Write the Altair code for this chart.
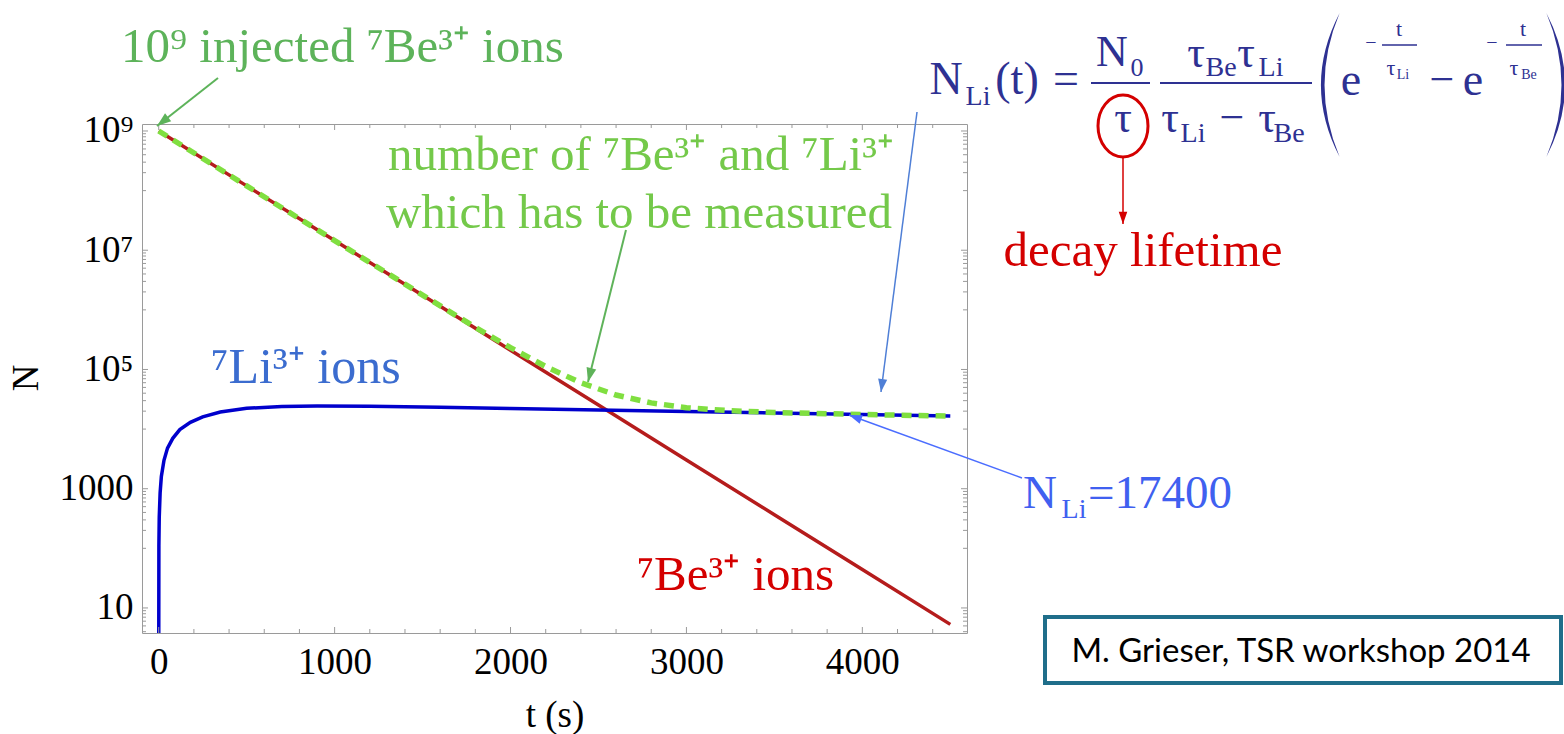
import math
import altair as alt
import pandas as pd

# ---------------- data ----------------
t_be = [0, 500, 1000, 1500, 2000, 2500, 3000, 3500, 4000, 4500]
n_be = [1.0e9, 1.2e8, 1.45e7, 1.75e6, 2.1e5, 2.53e4, 3040, 366, 44, 5.3]

t_li = [0, 1, 3, 8, 15, 30, 50, 80, 120, 180, 250, 350, 500, 700, 900,
        1200, 1600, 2000, 2500, 3000, 3500, 4000, 4500]
n_li = [0.5, 110, 330, 850, 1600, 3000, 4800, 7000, 9800, 13000, 16000, 19300,
        22300, 24000, 24500, 24200, 23200, 22200, 21000, 19800, 18600, 17500, 16500]

t_tot = [0, 500, 1000, 1500, 1800, 2000, 2200, 2400, 2600, 2800, 3000, 3250,
         3500, 4000, 4500]
n_tot = [1.0e9, 1.2e8, 1.45e7, 1.77e6, 5.1e5, 2.32e5, 1.12e5, 5.98e4, 3.73e4,
         2.75e4, 2.28e4, 2.03e4, 1.9e4, 1.755e4, 1.65e4]

x_major = [0, 1000, 2000, 3000, 4000]
x_minor = [v for v in range(200, 4600, 200) if v % 1000 != 0]
y_major = [10, 1e3, 1e5, 1e7, 1e9]
y_minor = [k * 10 ** n for n in (0, 2, 4, 6, 8) for k in range(1, 10)
           if 3.8 <= k * 10 ** n <= 1.31e9 and k * 10 ** n not in y_major]

# ---------------- layout ----------------
W, H = 825, 509
OX, OY = 142, 124
SERIF = "Liberation Serif"
SANS = "Lato"

NAVY = "#2e3192"
RED_TXT = "#d40000"
GREEN1 = "#5db35a"
GREEN2 = "#74c94a"
GREEN_LINE = "#80df40"
BLUE_LINE = "#0000cc"
RED_LINE = "#b51c1c"

xscale = alt.Scale(domain=[-95, 4595], nice=False, zero=False)
yscale = alt.Scale(type="log", domain=[3.8, 1.31e9], nice=False)

label_expr = ("datum.value >= 5e8 ? '10⁹' : datum.value >= 5e6 ? '10⁷' : "
              "datum.value >= 5e4 ? '10⁵' : datum.value >= 500 ? '1000' : '10'")

AX_X = alt.Axis(values=x_major, format="d", labelFont=SERIF, labelFontSize=37,
                labelColor="black", tickSize=0, domain=False, grid=False,
                labelPadding=11, title=None, labelFlush=False, labelOverlap=False)
AX_Y = alt.Axis(values=y_major, labelExpr=label_expr, labelFont=SERIF,
                labelFontSize=37, labelColor="black", tickSize=0,
                domain=False, grid=False, labelPadding=9, title=None,
                labelFlush=False, labelOverlap=False)


def XE(field="t:Q"):
    return alt.X(field, scale=xscale, axis=AX_X)


def YE(field="n:Q"):
    return alt.Y(field, scale=yscale, axis=AX_Y)


be_df = pd.DataFrame({"t": t_be, "n": n_be})
li_df = pd.DataFrame({"t": t_li, "n": n_li})
tot_df = pd.DataFrame({"t": t_tot, "n": n_tot})

red = alt.Chart(be_df).mark_line(color=RED_LINE, strokeWidth=3.5, clip=True).encode(
    x=XE(), y=YE())
blue = alt.Chart(li_df).mark_line(color=BLUE_LINE, strokeWidth=3.5, clip=True).encode(
    x=XE(), y=YE())
green = alt.Chart(tot_df).mark_line(color=GREEN_LINE, strokeWidth=5.5, strokeDash=[10, 7],
                                    clip=True).encode(x=XE(), y=YE())

TICK = "#9a9a9a"
xmaj_df = pd.DataFrame({"t": x_major})
xmin_df = pd.DataFrame({"t": x_minor})
ymaj_df = pd.DataFrame({"n": y_major})
ymin_df = pd.DataFrame({"n": y_minor})


def xticks(df, ln):
    bot = alt.Chart(df).mark_rule(color=TICK, strokeWidth=1).encode(
        x=XE(), y=alt.value(H), y2=alt.value(H - ln))
    top = alt.Chart(df).mark_rule(color=TICK, strokeWidth=1).encode(
        x=XE(), y=alt.value(0), y2=alt.value(ln))
    return [bot, top]


def yticks(df, ln):
    lef = alt.Chart(df).mark_rule(color=TICK, strokeWidth=1).encode(
        y=YE(), x=alt.value(0), x2=alt.value(ln))
    rig = alt.Chart(df).mark_rule(color=TICK, strokeWidth=1).encode(
        y=YE(), x=alt.value(W), x2=alt.value(W - ln))
    return [lef, rig]


one = pd.DataFrame({"k": [0]})


def txt(s, x, y, size, color, font=SERIF, align="center", angle=None):
    kw = dict(text=s, fontSize=size, color=color, font=font, align=align,
              baseline="middle")
    if angle is not None:
        kw["angle"] = angle
    return alt.Chart(one).mark_text(**kw).encode(x=alt.value(x - OX), y=alt.value(y - OY))


def seg(x1, y1, x2, y2, color, w):
    return alt.Chart(one).mark_rule(color=color, strokeWidth=w).encode(
        x=alt.value(x1 - OX), y=alt.value(y1 - OY),
        x2=alt.value(x2 - OX), y2=alt.value(y2 - OY))


def arrow(x1, y1, x2, y2, color, w, size):
    ang = math.degrees(math.atan2(x2 - x1, -(y2 - y1))) % 360
    head = alt.Chart(one).mark_point(shape="M0,0 L0.7,2 L-0.7,2 Z", filled=True,
                                     color=color, size=size, angle=ang, opacity=1).encode(
        x=alt.value(x2 - OX), y=alt.value(y2 - OY))
    return [seg(x1, y1, x2, y2, color, w), head]


layers = [red, blue, green]
layers += xticks(xmaj_df, 6) + xticks(xmin_df, 4) + yticks(ymaj_df, 6) + yticks(ymin_df, 4)

# axis titles
layers.append(txt("N", 27, 378, 37, "black", angle=270))
layers.append(txt("t (s)", 555, 716, 37, "black"))

# plot annotations
layers.append(txt("10⁹ injected ⁷Be³⁺ ions", 121, 47, 49, GREEN1, align="left"))
layers += arrow(218, 78, 157, 126, GREEN1, 2, 200)
layers.append(txt("number of ⁷Be³⁺ and ⁷Li³⁺", 641, 155, 49, GREEN2))
layers.append(txt("which has to be measured", 639, 213, 49, GREEN2))
layers += arrow(626, 230, 588, 382, "#5fb35a", 2, 200)
layers.append(txt("⁷Li³⁺ ions", 211, 368, 50, "#3b6ccf", align="left"))
layers.append(txt("⁷Be³⁺ ions", 637, 575, 49, RED_TXT, align="left"))

# formula
pieces = [
    ("N", 946, 80, 46), ("Li", 978, 97, 28), ("(t)", 1017, 80, 46), ("=", 1066, 80, 46),
    ("N", 1112, 53, 44), ("0", 1137, 68, 26), ("τ", 1123, 119, 44),
    ("τ", 1196, 54, 44), ("Be", 1221, 68, 28), ("τ", 1246, 54, 44), ("Li", 1271, 68, 28),
    ("τ", 1170, 119, 44), ("Li", 1193, 134, 28), ("−", 1232, 119, 44),
    ("τ", 1267, 119, 44), ("Be", 1289, 134, 28),
    ("e", 1351, 81, 46), ("−", 1371, 43, 20), ("t", 1399, 29, 22),
    ("τ", 1391, 68, 22), ("Li", 1403, 75, 14),
    ("−", 1442, 81, 44), ("e", 1473, 81, 46), ("−", 1492, 43, 20), ("t", 1523, 29, 22),
    ("τ", 1514, 68, 22), ("Be", 1529, 75, 14),
]
for s, x, y, fs in pieces:
    layers.append(txt(s, x, y, fs, NAVY))
layers.append(seg(1091, 83, 1150, 83, NAVY, 2))
layers.append(seg(1160, 83, 1312, 83, NAVY, 2))
layers.append(seg(1382, 45, 1417, 45, NAVY, 1.5))
layers.append(seg(1506, 45, 1542, 45, NAVY, 1.5))
lpar = "M0.12,-1 Q-0.4,0 0.12,1 Q-0.3,0 0.12,-1 Z"
rpar = "M-0.12,-1 Q0.4,0 -0.12,1 Q0.3,0 -0.12,-1 Z"
layers.append(alt.Chart(one).mark_point(shape=lpar, filled=True, color=NAVY, size=20736,
                                        opacity=1).encode(x=alt.value(1331 - OX), y=alt.value(85 - OY)))
layers.append(alt.Chart(one).mark_point(shape=rpar, filled=True, color=NAVY, size=20736,
                                        opacity=1).encode(x=alt.value(1555 - OX), y=alt.value(85 - OY)))
# red circle and decay lifetime
ell = "M-1,0 A1,1.24 0 1,1 1,0 A1,1.24 0 1,1 -1,0 Z"
layers.append(alt.Chart(one).mark_point(shape=ell, filled=False, color=RED_TXT, strokeWidth=3,
                                        size=2500, opacity=1).encode(
    x=alt.value(1123 - OX), y=alt.value(126 - OY)))
layers += arrow(1123, 157, 1123, 224, RED_TXT, 1.5, 150)
layers.append(txt("decay lifetime", 1143, 251, 49, RED_TXT))

# blue arrows
layers += arrow(917, 112, 881, 392, "#4f7fd6", 1.5, 170)
layers += arrow(1022, 478, 849, 415, "#4b6dff", 1.5, 170)
layers.append(txt("N", 1040, 494, 47, "#4060f0"))
layers.append(txt("Li", 1074, 510, 28, "#4060f0"))
layers.append(txt("=17400", 1088, 494, 47, "#4060f0", align="left"))

# credit box
layers.append(alt.Chart(one).mark_rect(fill="white", stroke="#1f6e8a", strokeWidth=4).encode(
    x=alt.value(1045 - OX), x2=alt.value(1561 - OX), y=alt.value(617 - OY), y2=alt.value(683 - OY)))
layers.append(txt("M. Grieser, TSR workshop 2014", 1301, 652, 33, "black", font=SANS))

chart = alt.layer(*layers).properties(
    width=W, height=H,
    autosize=alt.AutoSizeParams(type="none"),
    padding={"left": OX, "top": OY, "right": 1564 - OX - W, "bottom": 734 - OY - H},
    background="white",
).configure_view(stroke="#9a9a9a", strokeWidth=1)

chart.save("out.html", embed_options={"renderer": "svg", "actions": False})
